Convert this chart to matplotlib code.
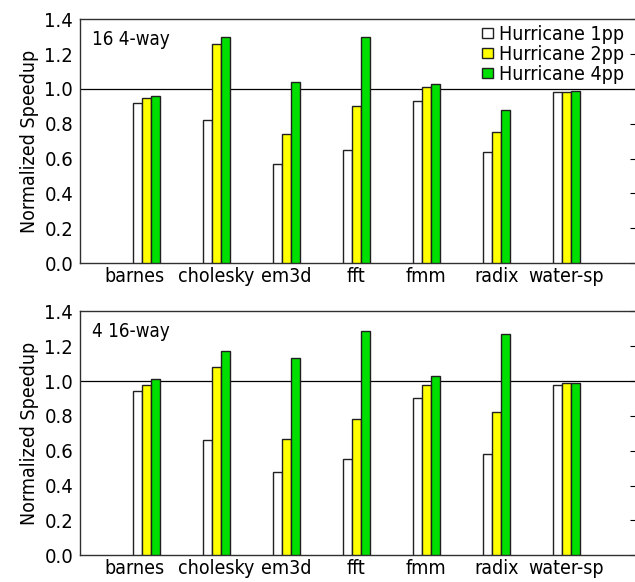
import numpy as np
import matplotlib
matplotlib.use('Agg')
import matplotlib.pyplot as plt

benchmarks = ['barnes', 'cholesky', 'em3d', 'fft', 'fmm', 'radix', 'water-sp']
series = ['Hurricane 1pp', 'Hurricane 2pp', 'Hurricane 4pp']
colors = ['white', '#ffff00', '#00e000']

# 16 4-way configuration
top_1pp = [0.92, 0.82, 0.57, 0.65, 0.93, 0.64, 0.98]
top_2pp = [0.95, 1.26, 0.74, 0.90, 1.01, 0.75, 0.98]
top_4pp = [0.96, 1.30, 1.04, 1.30, 1.03, 0.88, 0.99]

# 4 16-way configuration
bot_1pp = [0.94, 0.66, 0.48, 0.55, 0.90, 0.58, 0.98]
bot_2pp = [0.98, 1.08, 0.67, 0.78, 0.98, 0.82, 0.99]
bot_4pp = [1.01, 1.17, 1.13, 1.29, 1.03, 1.27, 0.99]

plt.rcParams['font.family'] = ['DejaVu Sans']
plt.rcParams['font.stretch'] = 'condensed'

fig = plt.figure(figsize=(6.35, 5.82), dpi=100)
ax_top = fig.add_axes([0.126, 0.548, 0.876, 0.419])
ax_bot = fig.add_axes([0.126, 0.046, 0.876, 0.419])

x = np.arange(len(benchmarks))
width = 0.129


def draw_panel(ax, data, label, show_legend):
    for k, (vals, name, col) in enumerate(zip(data, series, colors)):
        ax.bar(x + (k - 1) * width, vals, width, color=col, edgecolor='#202020',
               linewidth=1.0, label=name, zorder=3)
    ax.axhline(1.0, color='black', linewidth=0.9, zorder=2)
    ax.set_xlim(-0.95, 7.0)
    ax.set_ylim(0, 1.4)
    ticks = np.arange(0, 1.41, 0.2)
    ax.set_yticks(ticks)
    ax.set_yticklabels([f'{v:.1f}' for v in ticks], fontsize=14.5)
    # first label sits a bit left of its bars in the original, so use a minor tick for it
    ax.set_xticks(x[1:])
    ax.set_xticklabels(benchmarks[1:], fontsize=14)
    ax.set_xticks([x[0] - 0.17], minor=True)
    ax.set_xticklabels(benchmarks[:1], minor=True, fontsize=14)
    ax.tick_params(axis='x', which='both', length=0, pad=3)
    ax.tick_params(axis='y', which='both', left=False, right=True, direction='in',
                   length=4, pad=5)
    ax.spines['right'].set_visible(False)
    for s in ['left', 'top', 'bottom']:
        ax.spines[s].set_linewidth(1.0)
        ax.spines[s].set_color('#303030')
    ax.set_ylabel('Normalized Speedup', fontsize=14, labelpad=4)
    ax.text(0.022, 0.955, label, transform=ax.transAxes, fontsize=13.5,
            ha='left', va='top')
    if show_legend:
        ax.legend(loc='upper right', bbox_to_anchor=(1.0, 1.025), frameon=False,
                  fontsize=14, handlelength=0.55, handleheight=0.4,
                  handletextpad=0.35, labelspacing=0.05, borderaxespad=0.2)


draw_panel(ax_top, [top_1pp, top_2pp, top_4pp], '16 4-way', True)
draw_panel(ax_bot, [bot_1pp, bot_2pp, bot_4pp], '4 16-way', False)

fig.savefig('out.png', dpi=100)
